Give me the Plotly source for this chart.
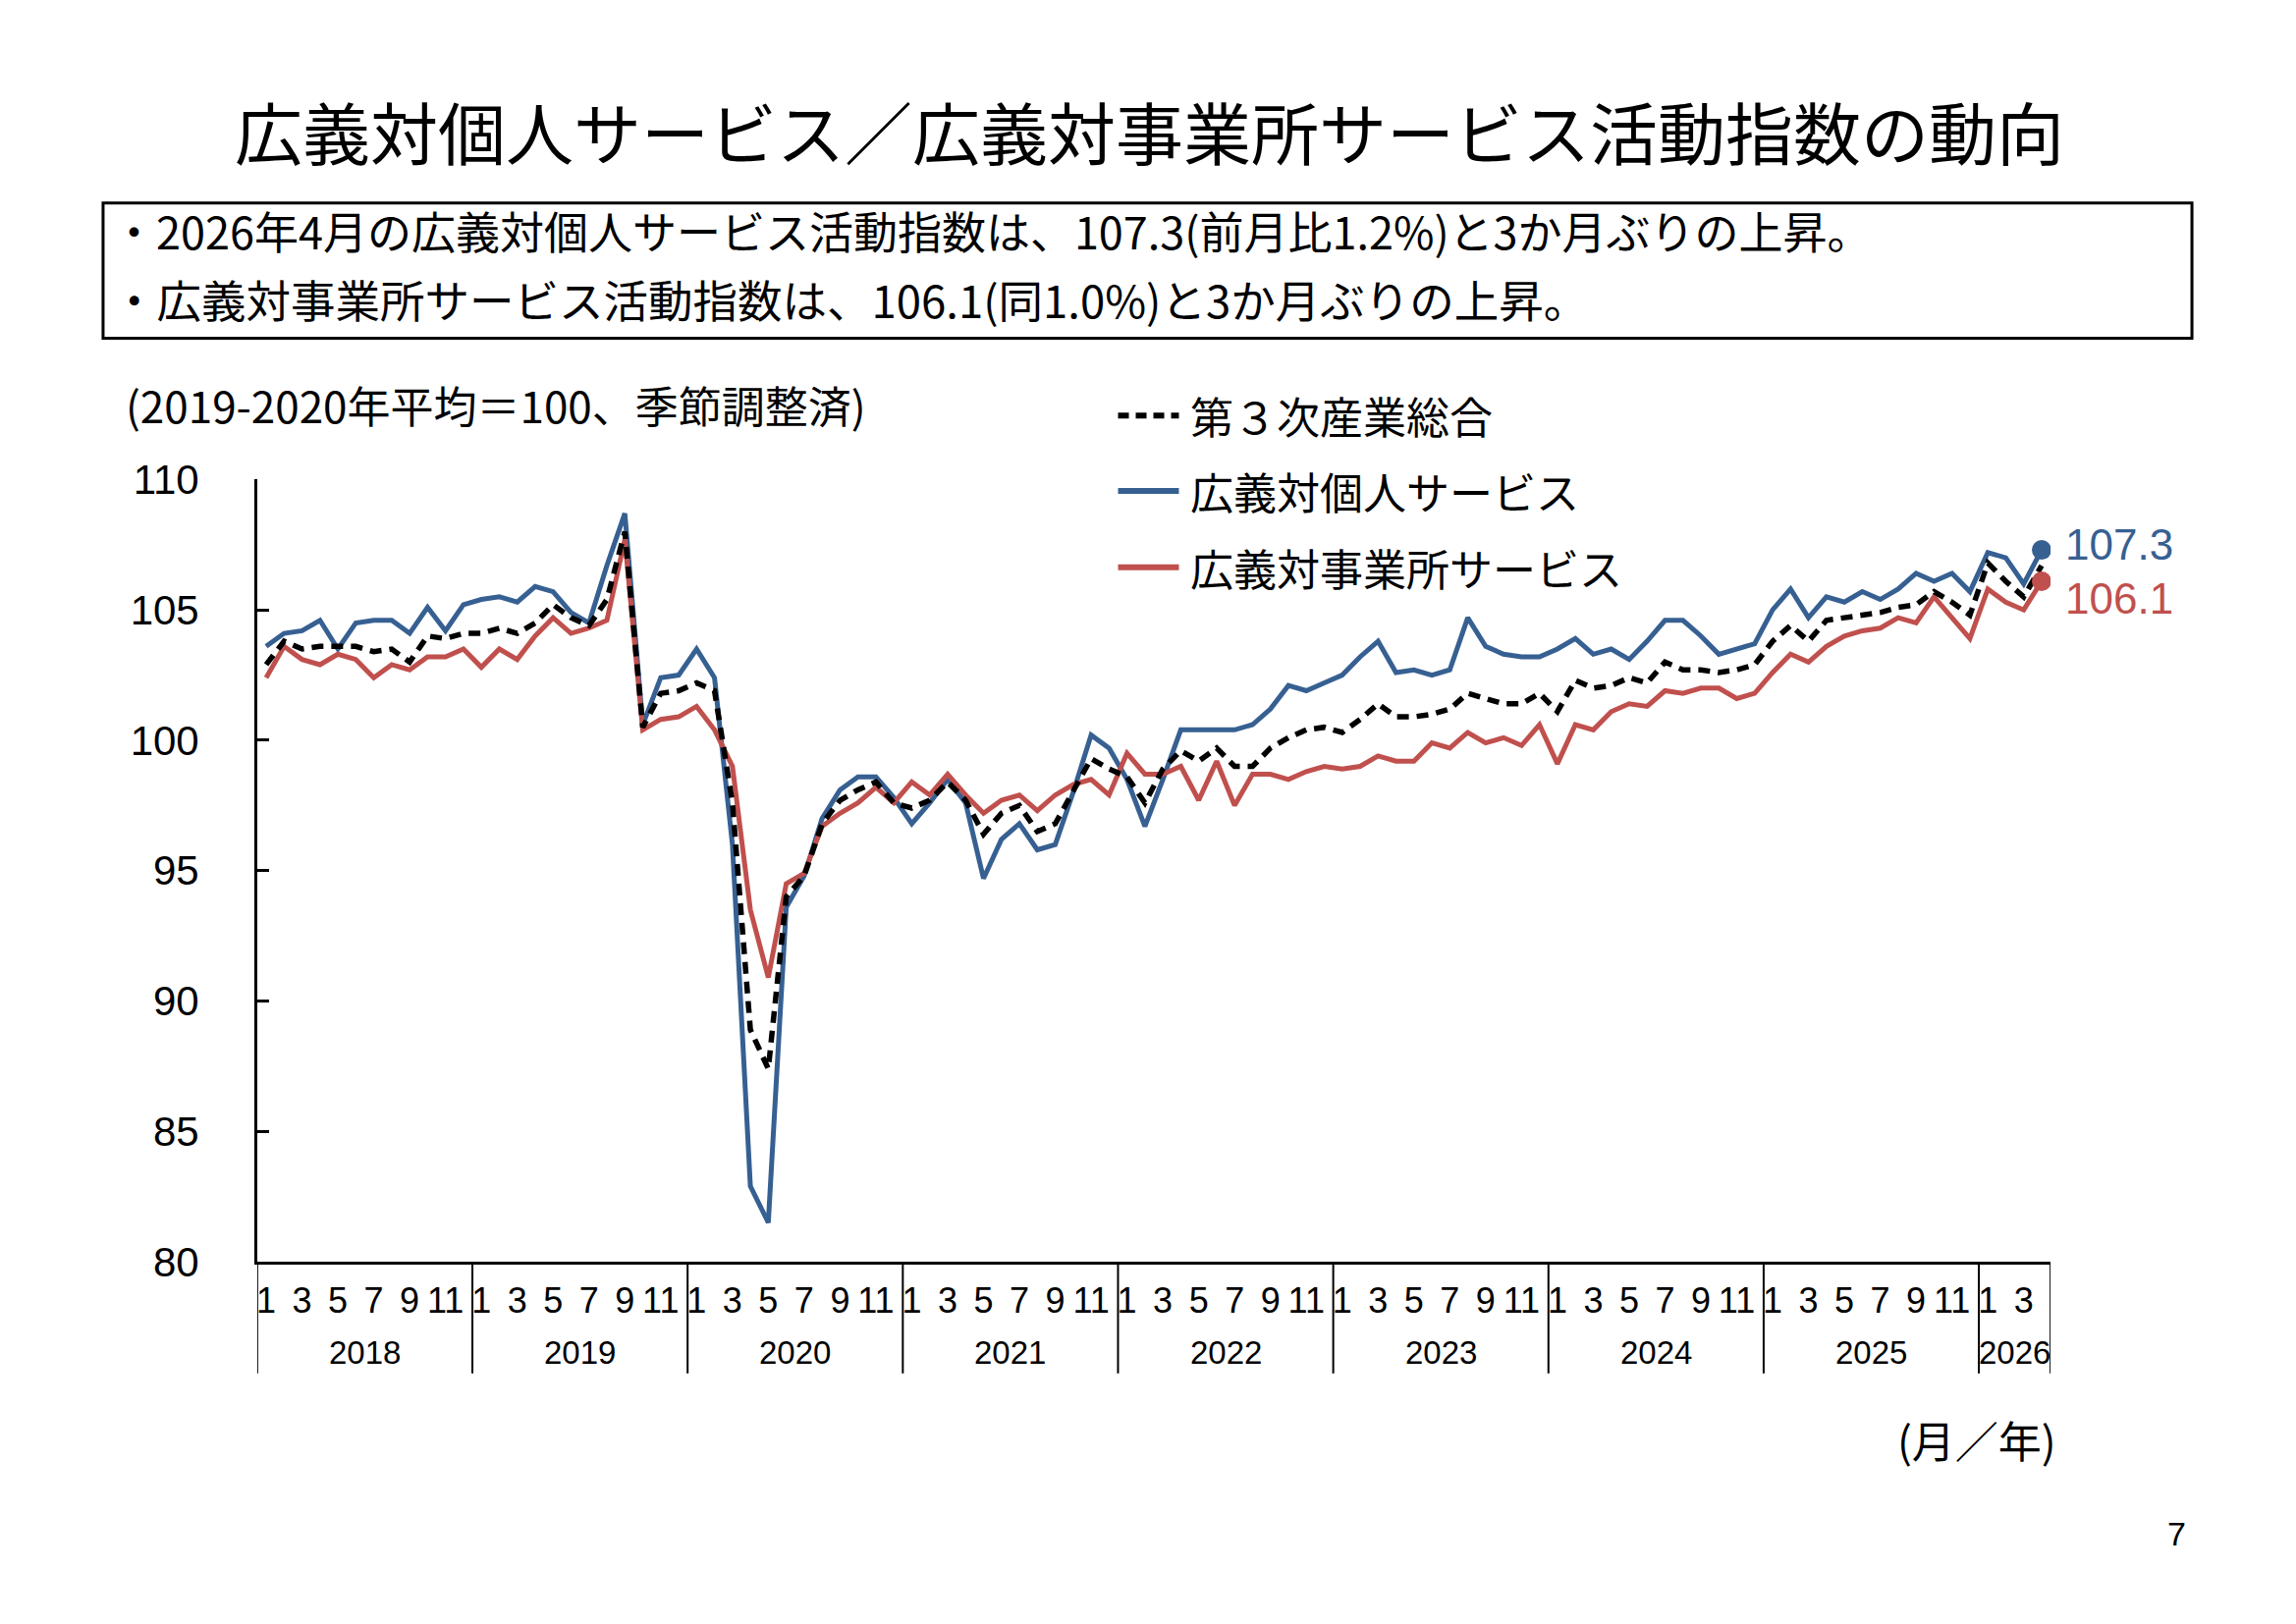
import plotly.graph_objects as go

W, H = 2338, 1654

# ---------------- data ----------------
years = [2018, 2019, 2020, 2021, 2022, 2023, 2024, 2025, 2026]
months_in_year = [12, 12, 12, 12, 12, 12, 12, 12, 4]
month_labels_shown = [1, 3, 5, 7, 9, 11]
y_ticks = [80, 85, 90, 95, 100, 105, 110]

series_names = ["第３次産業総合", "広義対個人サービス", "広義対事業所サービス"]

total = [
    102.9, 103.8, 103.5, 103.6, 103.6, 103.6, 103.4, 103.5, 103.0, 104.0, 103.9, 104.1,
    104.1, 104.3, 104.1, 104.5, 105.2, 104.7, 104.4, 105.4, 108.0, 100.5, 101.8, 101.9,
    102.2, 101.9, 97.6, 88.9, 87.4, 94.0, 94.8, 96.8, 97.7, 98.1, 98.4, 97.6,
    97.4, 97.7, 98.4, 97.7, 96.4, 97.2, 97.5, 96.5, 96.8, 98.0, 99.3, 98.9,
    98.6, 97.6, 98.9, 99.6, 99.2, 99.7, 99.0, 99.0, 99.7, 100.1, 100.4, 100.5,
    100.3, 100.8, 101.4, 100.9, 100.9, 101.0, 101.2, 101.8, 101.6, 101.4, 101.4, 101.8,
    101.1, 102.3, 102.0, 102.1, 102.4, 102.2, 103.0, 102.7, 102.7, 102.6, 102.7, 102.9,
    103.8, 104.4, 103.8, 104.6, 104.7, 104.8, 104.9, 105.1, 105.2, 105.7, 105.3, 104.8,
    106.8, 106.1, 105.5, 106.7,
]

personal = [
    103.6, 104.1, 104.2, 104.6, 103.5, 104.5, 104.6, 104.6, 104.1, 105.1, 104.2, 105.2,
    105.4, 105.5, 105.3, 105.9, 105.7, 104.9, 104.5, 106.7, 108.7, 100.6, 102.4, 102.5,
    103.5, 102.4, 96.0, 82.9, 81.5, 93.6, 94.8, 97.0, 98.1, 98.6, 98.6, 97.8,
    96.8, 97.6, 98.5, 97.6, 94.7, 96.2, 96.8, 95.8, 96.0, 98.0, 100.2, 99.7,
    98.5, 96.7, 98.5, 100.4, 100.4, 100.4, 100.4, 100.6, 101.2, 102.1, 101.9, 102.2,
    102.5, 103.2, 103.8, 102.6, 102.7, 102.5, 102.7, 104.7, 103.6, 103.3, 103.2, 103.2,
    103.5, 103.9, 103.3, 103.5, 103.1, 103.8, 104.6, 104.6, 104.0, 103.3, 103.5, 103.7,
    105.0, 105.8, 104.7, 105.5, 105.3, 105.7, 105.4, 105.8, 106.4, 106.1, 106.4, 105.7,
    107.2, 107.0, 106.0, 107.3,
]

business = [
    102.4, 103.6, 103.1, 102.9, 103.3, 103.1, 102.4, 102.9, 102.7, 103.2, 103.2, 103.5,
    102.8, 103.5, 103.1, 104.0, 104.7, 104.1, 104.3, 104.6, 107.7, 100.4, 100.8, 100.9,
    101.3, 100.4, 99.0, 93.5, 90.9, 94.5, 94.9, 96.7, 97.2, 97.6, 98.2, 97.6,
    98.4, 97.9, 98.7, 97.9, 97.2, 97.7, 97.9, 97.3, 97.9, 98.3, 98.5, 97.9,
    99.5, 98.7, 98.7, 99.0, 97.7, 99.2, 97.5, 98.7, 98.7, 98.5, 98.8, 99.0,
    98.9, 99.0, 99.4, 99.2, 99.2, 99.9, 99.7, 100.3, 99.9, 100.1, 99.8, 100.6,
    99.1, 100.6, 100.4, 101.1, 101.4, 101.3, 101.9, 101.8, 102.0, 102.0, 101.6, 101.8,
    102.6, 103.3, 103.0, 103.6, 104.0, 104.2, 104.3, 104.7, 104.5, 105.5, 104.7, 103.9,
    105.8, 105.3, 105.0, 106.1,
]

# ---------------- style ----------------
BLUE = "#376092"
RED = "#C0504D"
BLACK = "#000000"
JP = "Noto Sans CJK JP, sans-serif"
NUM = "Liberation Sans, Arial, sans-serif"

periods = [f"{y}-{m:02d}" for y, n in zip(years, months_in_year) for m in range(1, n + 1)]
tick_vals = [f"{y}-{m:02d}" for y, n in zip(years, months_in_year)
             for m in month_labels_shown if m <= n]
tick_text = [str(int(v.split("-")[1])) for v in tick_vals]


def px(xp):
    return xp / W


def py(yp):
    # vertical layout positions (pixels from top of the page)
    return 1 - yp / H


X0, X1 = 261, 2088
Y_TOP, Y_BOT = 479, 1299
DIV_BOT = 1416

fig = go.Figure()
fig.add_trace(go.Scatter(x=periods, y=personal, mode="lines", name=series_names[1],
                         line=dict(color=BLUE, width=5)))
fig.add_trace(go.Scatter(x=periods, y=business, mode="lines", name=series_names[2],
                         line=dict(color=RED, width=5)))
fig.add_trace(go.Scatter(x=periods, y=total, mode="lines", name=series_names[0],
                         line=dict(color=BLACK, width=5.5, dash="12px,8px")))
fig.add_trace(go.Scatter(x=[periods[-1]], y=[personal[-1]], mode="markers",
                         marker=dict(color=BLUE, size=20), showlegend=False))
fig.add_trace(go.Scatter(x=[periods[-1]], y=[business[-1]], mode="markers",
                         marker=dict(color=RED, size=20), showlegend=False))

shapes = []
annotations = []

bounds = [-0.5]
for n in months_in_year:
    bounds.append(bounds[-1] + n)
for b in bounds:
    shapes.append(dict(type="line", xref="x", yref="paper", x0=b, x1=b,
                       y0=py(Y_BOT), y1=py(DIV_BOT), line=dict(color=BLACK, width=2)))
for i, (yr, n) in enumerate(zip(years, months_in_year)):
    c = bounds[i] + n / 2
    annotations.append(dict(xref="x", yref="paper", x=c, y=py(1394), text=str(yr),
                            showarrow=False, xanchor="center", yanchor="middle",
                            font=dict(family=NUM, size=33, color=BLACK)))

annotations.append(dict(xref="x", yref="y", x=periods[-1], y=personal[-1],
                        text=f"{personal[-1]:.1f}", showarrow=False, xanchor="left",
                        yanchor="middle", xshift=22, yshift=6,
                        font=dict(family=NUM, size=44, color=BLUE)))
annotations.append(dict(xref="x", yref="y", x=periods[-1], y=business[-1],
                        text=f"{business[-1]:.1f}", showarrow=False, xanchor="left",
                        yanchor="middle", xshift=22, yshift=-18,
                        font=dict(family=NUM, size=44, color=RED)))

annotations.append(dict(xref="paper", yref="paper", x=px(1170), y=py(113),
                        text="広義対個人サービス／広義対事業所サービス活動指数の動向",
                        showarrow=False, xanchor="center", yanchor="middle",
                        font=dict(family=JP, size=69, color=BLACK)))
shapes.append(dict(type="rect", xref="paper", yref="paper", x0=px(104), x1=px(2232),
                   y0=py(331), y1=py(189), line=dict(color=BLACK, width=3)))
annotations.append(dict(xref="paper", yref="paper", x=px(111), y=py(218),
                        text="・2026年4月の広義対個人サービス活動指数は、107.3(前月比1.2%)と3か月ぶりの上昇。",
                        showarrow=False, xanchor="left", yanchor="middle",
                        font=dict(family=JP, size=45, color=BLACK)))
annotations.append(dict(xref="paper", yref="paper", x=px(111), y=py(289),
                        text="・広義対事業所サービス活動指数は、106.1(同1.0%)と3か月ぶりの上昇。",
                        showarrow=False, xanchor="left", yanchor="middle",
                        font=dict(family=JP, size=45.5, color=BLACK)))
annotations.append(dict(xref="paper", yref="paper", x=px(125), y=py(400),
                        text="(2019-2020年平均＝100、季節調整済)",
                        showarrow=False, xanchor="left", yanchor="middle",
                        font=dict(family=JP, size=44, color=BLACK)))
leg_rows = [(412, BLACK, "dash", series_names[0]),
            (491, BLUE, "solid", series_names[1]),
            (571, RED, "solid", series_names[2])]
for yy, col, dash, name in leg_rows:
    shapes.append(dict(type="line", xref="paper", yref="paper", x0=px(1138), x1=px(1200),
                       y0=py(yy), y1=py(yy),
                       line=dict(color=col, width=6,
                                 dash="11px,7px" if dash == "dash" else "solid")))
    annotations.append(dict(xref="paper", yref="paper", x=px(1210), y=py(yy), text=name,
                            showarrow=False, xanchor="left", yanchor="middle",
                            font=dict(family=JP, size=44, color=BLACK)))
annotations.append(dict(xref="paper", yref="paper", x=px(2096), y=py(1485),
                        text="(月／年)", showarrow=False, xanchor="right", yanchor="middle",
                        font=dict(family=JP, size=44, color=BLACK)))
annotations.append(dict(xref="paper", yref="paper", x=px(2228), y=py(1584),
                        text="7", showarrow=False, xanchor="right", yanchor="middle",
                        font=dict(family=NUM, size=34, color=BLACK)))

fig.update_layout(
    width=W, height=H,
    margin=dict(l=0, r=0, t=0, b=0),
    paper_bgcolor="white", plot_bgcolor="white",
    showlegend=False,
    shapes=shapes, annotations=annotations,
    xaxis=dict(type="category", categoryorder="array", categoryarray=periods,
               range=[-0.5, len(periods) - 0.5], domain=[px(X0), px(X1)],
               showline=True, linecolor=BLACK, linewidth=2.5, ticks="",
               tickvals=tick_vals, ticktext=tick_text, showgrid=False, zeroline=False,
               tickfont=dict(family=NUM, size=36, color=BLACK), ticklabelstandoff=6),
    yaxis=dict(range=[80, 110], domain=[py(Y_BOT), py(Y_TOP)], tickvals=y_ticks,
               ticks="inside", ticklen=12, tickwidth=2.5, tickcolor=BLACK,
               showline=True, linecolor=BLACK, linewidth=2.5, showgrid=False, zeroline=False,
               tickfont=dict(family=NUM, size=42, color=BLACK), ticklabelstandoff=48),
)

fig.write_html("out.html")
